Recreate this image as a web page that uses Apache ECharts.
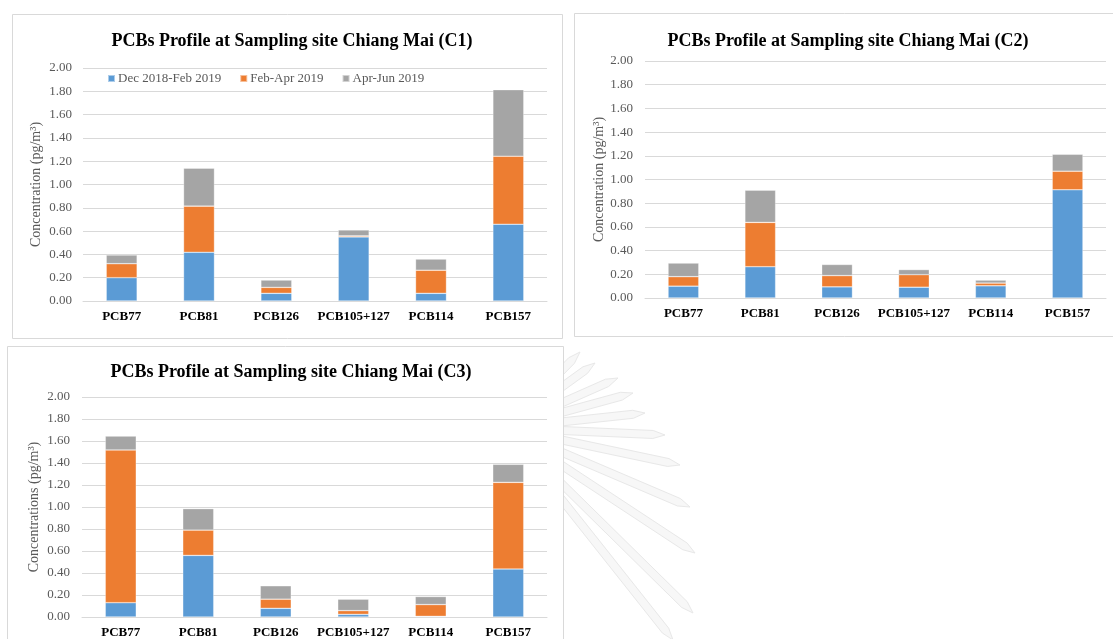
<!DOCTYPE html>
<html>
<head>
<meta charset="utf-8">
<script src="https://cdn.jsdelivr.net/npm/echarts@6/dist/echarts.min.js"></script>
<style>
  html, body { margin: 0; padding: 0; background: #ffffff; }
  #chart { width: 1113px; height: 639px; }
</style>
</head>
<body>
<div id="chart"></div>
<script>
// PCB congeners measured at each site
const categories = ['PCB77', 'PCB81', 'PCB126', 'PCB105+127', 'PCB114', 'PCB157'];
const periods = ['Dec 2018-Feb 2019', 'Feb-Apr 2019', 'Apr-Jun 2019'];
const yTicks = [0, 0.2, 0.4, 0.6, 0.8, 1.0, 1.2, 1.4, 1.6, 1.8, 2.0];

// Concentrations (pg/m3) per sampling period, site C1
const c1Dec = [0.200, 0.418, 0.066, 0.550, 0.066, 0.659];
const c1Feb = [0.120, 0.396, 0.051, 0.009, 0.198, 0.584];
const c1Apr = [0.075, 0.326, 0.063, 0.051, 0.096, 0.571];

// Site C2
const c2Dec = [0.100, 0.264, 0.094, 0.091, 0.103, 0.913];
const c2Feb = [0.080, 0.374, 0.095, 0.106, 0.023, 0.157];
const c2Apr = [0.115, 0.272, 0.094, 0.043, 0.025, 0.143];

// Site C3
const c3Dec = [0.130, 0.560, 0.079, 0.024, 0.006, 0.436];
const c3Feb = [1.388, 0.230, 0.083, 0.034, 0.107, 0.788];
const c3Apr = [0.127, 0.195, 0.122, 0.104, 0.073, 0.164];

const titles = [
  'PCBs Profile at Sampling site Chiang Mai (C1)',
  'PCBs Profile at Sampling site Chiang Mai (C2)',
  'PCBs Profile at Sampling site Chiang Mai (C3)'
];
const yNames = ['Concentration (pg/m³)', 'Concentration (pg/m³)', 'Concentrations (pg/m³)'];

const colors = ['#5B9BD5', '#ED7D31', '#A5A5A5'];
const serif = '"Liberation Serif", "Times New Roman", serif';

const sites = [
  { values: [c1Dec, c1Feb, c1Apr], grid: { left: 83, top: 68, width: 464, height: 233 }, titleX: 292, titleY: 32, nameGap: 40, labelMargin: 11 },
  { values: [c2Dec, c2Feb, c2Apr], grid: { left: 645, top: 61, width: 461, height: 237 }, titleX: 848, titleY: 32, nameGap: 37, labelMargin: 12 },
  { values: [c3Dec, c3Feb, c3Apr], grid: { left: 82, top: 397, width: 465, height: 220 }, titleX: 291, titleY: 363, nameGap: 41, labelMargin: 12 }
];

const grid = [], xAxis = [], yAxis = [], series = [], title = [];
sites.forEach(function (s, i) {
  grid.push(Object.assign({ containLabel: false }, s.grid));
  title.push({
    text: titles[i], left: s.titleX, top: s.titleY, textAlign: 'center', padding: 0,
    textStyle: { fontFamily: serif, fontSize: 18, fontWeight: 'bold', color: '#000000' }
  });
  xAxis.push({
    type: 'category', gridIndex: i, data: categories,
    axisLine: { lineStyle: { color: '#D9D9D9', width: 1 } },
    axisTick: { show: false },
    axisLabel: { fontFamily: serif, fontSize: 13, fontWeight: 'bold', color: '#000000', margin: 9, interval: 0 }
  });
  yAxis.push({
    type: 'value', gridIndex: i, min: yTicks[0], max: yTicks[yTicks.length - 1], interval: yTicks[1] - yTicks[0],
    name: yNames[i], nameLocation: 'middle', nameGap: s.nameGap, nameRotate: 90,
    nameTextStyle: { fontFamily: serif, fontSize: 14, color: '#595959' },
    axisLine: { show: false }, axisTick: { show: false },
    axisLabel: { fontFamily: serif, fontSize: 13, color: '#595959', margin: s.labelMargin,
      formatter: function (v) { return v.toFixed(2); } },
    splitLine: { lineStyle: { color: '#D9D9D9', width: 1 } }
  });
  s.values.forEach(function (vals, k) {
    series.push({
      name: periods[k], type: 'bar', stack: 'site' + i,
      xAxisIndex: i, yAxisIndex: i, data: vals, barWidth: '40%',
      itemStyle: { color: colors[k], borderColor: 'rgba(255,255,255,0.5)', borderWidth: 0.6 },
      emphasis: { disabled: true }
    });
  });
});

// Faint emblem in the page background, partly hidden behind the panels
const emblem = [];
const hub = [505, 428];
const rayTips = [[580, 352], [595, 363], [618, 378], [633, 393], [645, 413], [665, 435],
                 [680, 465], [690, 507], [695, 553], [693, 613], [673, 640]];
rayTips.forEach(function (t) {
  const dx = t[0] - hub[0], dy = t[1] - hub[1];
  const len = Math.sqrt(dx * dx + dy * dy);
  const ux = dx / len, uy = dy / len, nx = -uy, ny = ux, w = 4;
  const r0 = 40, sh = len - 12;
  const p = function (r, o) { return [hub[0] + ux * r + nx * o, hub[1] + uy * r + ny * o]; };
  emblem.push({
    type: 'polygon', z: -10, silent: true,
    shape: { points: [p(r0, -w), p(sh, -w), p(len, 0), p(sh, w), p(r0, w)] },
    style: { fill: '#F7F7F7', stroke: '#E8E8E8', lineWidth: 1 }
  });
});

// Panel frames
const frames = [
  { x: 12.5, y: 14.5, width: 550, height: 324 },
  { x: 574.5, y: 13.5, width: 540, height: 323 },
  { x: 7.5, y: 346.5, width: 556, height: 300 }
].map(function (r) {
  return { type: 'rect', z: -5, silent: true, shape: r, style: { fill: '#ffffff', stroke: '#D9D9D9', lineWidth: 1 } };
});

const chart = echarts.init(document.getElementById('chart'), null, { renderer: 'canvas' });
chart.setOption({
  animation: false,
  backgroundColor: '#ffffff',
  color: colors,
  title: title,
  legend: {
    data: periods, left: 107, top: 72, padding: 0,
    icon: 'rect', itemWidth: 7, itemHeight: 7, itemGap: 18,
    textStyle: { fontFamily: serif, fontSize: 13, color: '#595959', padding: [0, 0, 0, -2] },
    selectedMode: false
  },
  graphic: { elements: emblem.concat(frames) },
  grid: grid,
  xAxis: xAxis,
  yAxis: yAxis,
  series: series
});
</script>
</body>
</html>
